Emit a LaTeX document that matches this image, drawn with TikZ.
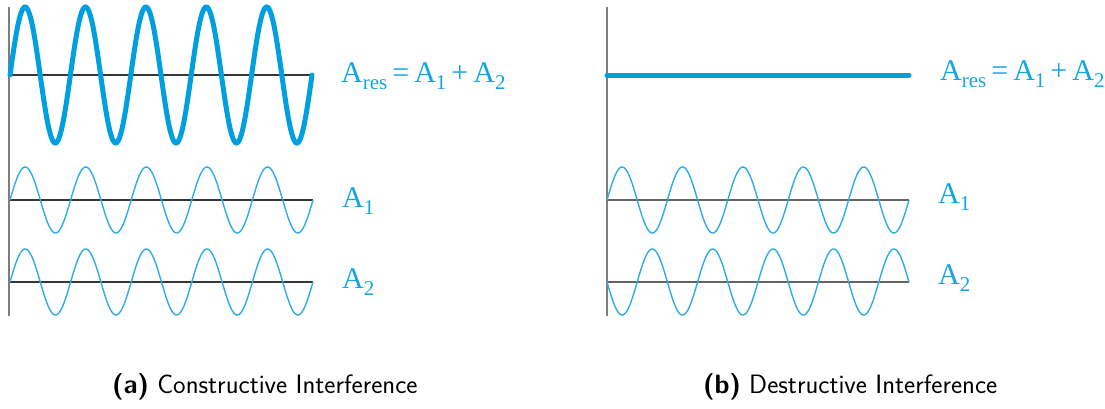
\documentclass[tikz,border=0pt]{standalone}
\usepackage{fontspec}
\newfontfamily\lblfont{Liberation Serif}
\definecolor{wavethick}{RGB}{0,160,224}
\definecolor{wavethin}{RGB}{45,172,230}
\definecolor{lblblue}{RGB}{20,165,228}
\definecolor{axisgray}{RGB}{125,125,125}
\definecolor{axisdark}{RGB}{55,55,55}
\newcommand\lsub[1]{\raisebox{-0.26em}{\fontsize{21}{21}\selectfont #1}}
\tikzset{
  thickwave/.style={wavethick, line width=5pt, line cap=round},
  thinwave/.style={wavethin, line width=1.4pt},
  vaxis/.style={axisgray, line width=1.8pt},
  haxis/.style={axisdark, line width=1.4pt},
  haxisb/.style={axisgray!80!black, line width=1.6pt},
  wlabel/.style={anchor=base west, inner sep=0pt, text=lblblue, font=\lblfont\fontsize{30}{30}\selectfont},
  caplabel/.style={anchor=base west, inner sep=0pt, font=\sffamily\fontsize{26.6}{26.6}\selectfont},
}
\begin{document}
\begin{tikzpicture}[x=1pt,y=-1pt]
\useasboundingbox (0,0) rectangle (1105,408);
% ---------- (a) constructive ----------
\draw[vaxis] (9,7) -- (9,316);
\draw[haxis] (10,75) -- (312,75);
\draw[haxis] (10,200) -- (313,200);
\draw[haxis] (10,282) -- (313,282);
\draw[thickwave] plot[domain=0:302, samples=300, smooth] ({10+\x},{75-68*sin(\x*5.9603)});
\draw[thinwave] plot[domain=0:303, samples=300, smooth] ({10+\x},{200-33*sin(\x*5.9406)});
\draw[thinwave] plot[domain=0:303, samples=300, smooth] ({10+\x},{282-33*sin(\x*5.9406)});
\node[wlabel] (resa) at (341,82) {A\lsub{res}\,=\,A\lsub{1}\,+\,A\lsub{2}};
\node[wlabel] (a1a) at (342,207) {A\lsub{1}};
\node[wlabel] (a2a) at (342,288) {A\lsub{2}};
\node[caplabel] (capa) at (112,393) {\textbf{(a)} Constructive Interference};
% ---------- (b) destructive ----------
\draw[vaxis] (607,7) -- (607,316);
\draw[haxisb] (607,200) -- (909,200);
\draw[haxisb] (607,282) -- (909,282);
\draw[thickwave] (607,75) -- (909,75);
\draw[thinwave] plot[domain=0:302, samples=300, smooth] ({607+\x},{200-33*sin(\x*5.9603)});
\draw[thinwave] plot[domain=0:302, samples=300, smooth] ({607+\x},{282+33*sin(\x*5.9603)});
\node[wlabel] (resb) at (940,80) {A\lsub{res}\,=\,A\lsub{1}\,+\,A\lsub{2}};
\node[wlabel] (a1b) at (938,203) {A\lsub{1}};
\node[wlabel] (a2b) at (938,284) {A\lsub{2}};
\node[caplabel] (capb) at (703,393) {\textbf{(b)} Destructive Interference};
\end{tikzpicture}
\end{document}
